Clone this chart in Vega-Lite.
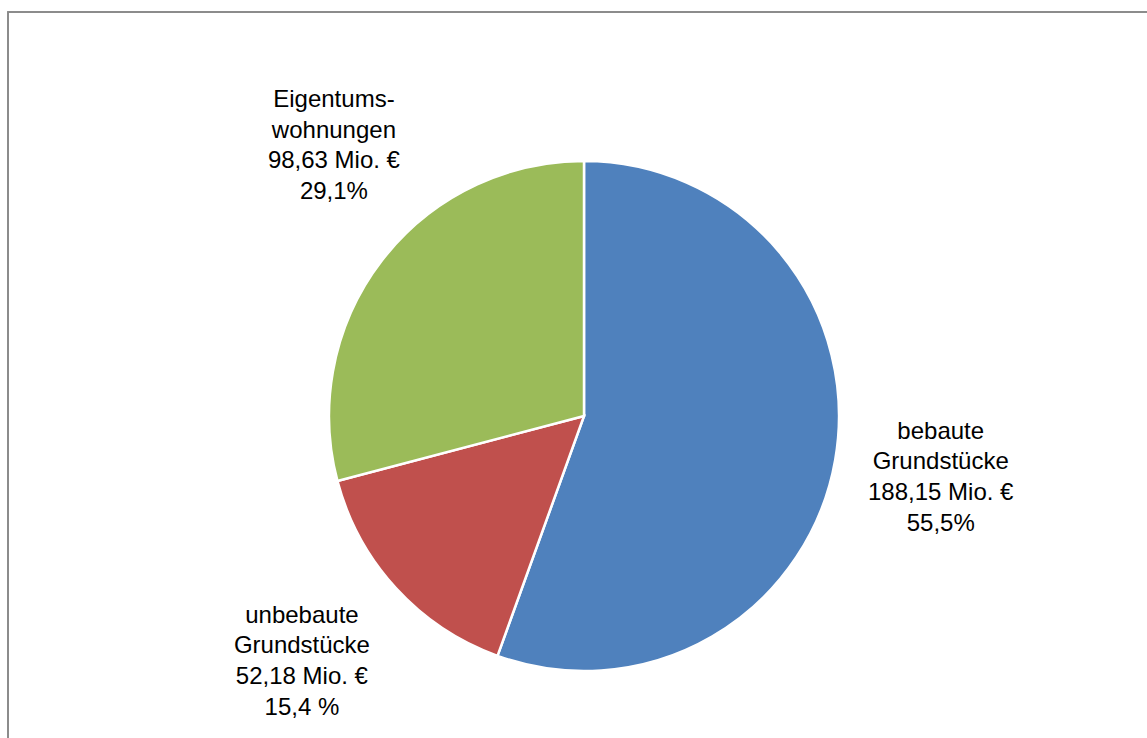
{
  "$schema": "https://vega.github.io/schema/vega-lite/v6.json",
  "autosize": "none",
  "width": 1152,
  "height": 808,
  "padding": {"left": 8, "top": 12, "right": -13, "bottom": -82},
  "background": "white",
  "config": {"view": {"stroke": null}},
  "data": {"values": [
    {"kat": "bebaute Grundstücke", "order": 1, "wert": 188.15, "lines": ["bebaute", "Grundstücke", "188,15 Mio. €", "55,5%"]},
    {"kat": "unbebaute Grundstücke", "order": 2, "wert": 52.18, "lines": ["unbebaute", "Grundstücke", "52,18 Mio. €", "15,4 %"]},
    {"kat": "Eigentumswohnungen", "order": 3, "wert": 98.63, "lines": ["Eigentums-", "wohnungen", "98,63 Mio. €", "29,1%"]}
  ]},
  "layer": [
    {
      "mark": {"type": "rect", "fill": null, "stroke": "#8a8a8a", "strokeWidth": 1.5},
      "encoding": {}
    },
    {
      "mark": {"type": "arc", "outerRadius": 255, "stroke": "white", "strokeWidth": 2.5},
      "encoding": {
        "theta": {"field": "wert", "type": "quantitative", "stack": true},
        "order": {"field": "order", "type": "ordinal"},
        "color": {"field": "kat", "type": "nominal", "legend": null,
          "scale": {"domain": ["bebaute Grundstücke", "unbebaute Grundstücke", "Eigentumswohnungen"], "range": ["#4F81BD", "#C0504D", "#9BBB59"]}}
      }
    },
    {
      "mark": {"type": "text", "radius": 362, "thetaOffset": -0.002, "dy": -46, "font": "Liberation Sans", "fontSize": 24, "lineHeight": 30.7, "baseline": "middle", "align": "center", "color": "black"},
      "encoding": {
        "theta": {"field": "wert", "type": "quantitative", "stack": true},
        "order": {"field": "order", "type": "ordinal"},
        "text": {"condition": {"test": "datum.order == 1", "field": "lines"}, "value": ""}
      }
    },
    {
      "mark": {"type": "text", "radius": 374, "thetaOffset": 0.0248, "dy": -46, "font": "Liberation Sans", "fontSize": 24, "lineHeight": 30.7, "baseline": "middle", "align": "center", "color": "black"},
      "encoding": {
        "theta": {"field": "wert", "type": "quantitative", "stack": true},
        "order": {"field": "order", "type": "ordinal"},
        "text": {"condition": {"test": "datum.order == 2", "field": "lines"}, "value": ""}
      }
    },
    {
      "mark": {"type": "text", "radius": 368, "thetaOffset": 0.167, "dy": -46, "font": "Liberation Sans", "fontSize": 24, "lineHeight": 30.7, "baseline": "middle", "align": "center", "color": "black"},
      "encoding": {
        "theta": {"field": "wert", "type": "quantitative", "stack": true},
        "order": {"field": "order", "type": "ordinal"},
        "text": {"condition": {"test": "datum.order == 3", "field": "lines"}, "value": ""}
      }
    }
  ]
}
